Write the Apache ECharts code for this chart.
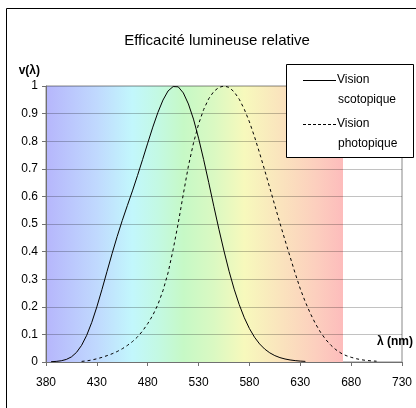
<!DOCTYPE html>
<html>
<head>
<meta charset="utf-8">
<script src="https://cdn.jsdelivr.net/npm/echarts@6/dist/echarts.min.js"></script>
<style>
  html, body { margin: 0; padding: 0; background: #fff; }
  #chart { width: 416px; height: 408px; }
</style>
</head>
<body>
<div id="chart"></div>
<script>
// Wavelength tick labels (nm)
var xTicks = [380, 430, 480, 530, 580, 630, 680, 730];

// Scotopic (night) relative luminous efficiency, 5 nm steps
var scotopicNm = [385, 390, 395, 400, 405, 410, 415, 420, 425, 430, 435, 440, 445, 450, 455, 460,
  465, 470, 475, 480, 485, 490, 495, 500, 505, 510, 515, 520, 525, 530, 535, 540, 545, 550, 555,
  560, 565, 570, 575, 580, 585, 590, 595, 600, 605, 610, 615, 620, 625, 630, 635];
var scotopic = [0.0011, 0.0022, 0.0045, 0.0093, 0.0185, 0.0348, 0.0604, 0.0966, 0.1436, 0.1998,
  0.2625, 0.3281, 0.3931, 0.455, 0.513, 0.567, 0.62, 0.676, 0.734, 0.793, 0.851, 0.904, 0.949,
  0.982, 0.998, 0.997, 0.975, 0.935, 0.88, 0.811, 0.733, 0.65, 0.564, 0.481, 0.402, 0.3288,
  0.2639, 0.2076, 0.1602, 0.1212, 0.0899, 0.0655, 0.0469, 0.0332, 0.0231, 0.0159, 0.0109,
  0.0074, 0.005, 0.0033, 0.0022];

// Photopic (day) relative luminous efficiency, 5 nm steps
var photopicNm = [415, 420, 425, 430, 435, 440, 445, 450, 455, 460, 465, 470, 475, 480, 485, 490,
  495, 500, 505, 510, 515, 520, 525, 530, 535, 540, 545, 550, 555, 560, 565, 570, 575, 580, 585,
  590, 595, 600, 605, 610, 615, 620, 625, 630, 635, 640, 645, 650, 655, 660, 665, 670, 675, 680,
  685, 690, 695, 700, 705];
var photopic = [0.0022, 0.004, 0.0073, 0.0116, 0.0168, 0.023, 0.0298, 0.038, 0.048, 0.06, 0.0739,
  0.091, 0.1126, 0.139, 0.1693, 0.208, 0.2586, 0.323, 0.4073, 0.503, 0.6082, 0.71, 0.7932, 0.862,
  0.9149, 0.954, 0.9803, 0.995, 1.0, 0.995, 0.9786, 0.952, 0.9154, 0.87, 0.8163, 0.757, 0.6949,
  0.631, 0.5668, 0.503, 0.4412, 0.381, 0.321, 0.265, 0.217, 0.175, 0.1382, 0.107, 0.0816, 0.061,
  0.0446, 0.032, 0.0232, 0.017, 0.0119, 0.0082, 0.0057, 0.0041, 0.0029];

// Visible spectrum band behind the curves (nm range and pastel colour stops)
var spectrumRange = [380, 672];
var spectrumStopsNm = [380, 430, 465, 490, 515, 545, 575, 610, 645, 672];
var spectrumColors = ['#b6b6fc', '#c0d9fe', '#c2f7fc', '#c3f9e3', '#c6f9c6', '#daf9c2',
  '#f7f9bc', '#fae4bd', '#fccfbe', '#fdbcbc'];

// Legend entries: each name is written on two lines
var legendLines = [['Vision', 'scotopique'], ['Vision', 'photopique']];

function pairs(xs, ys) {
  return xs.map(function (x, i) { return [x, ys[i]]; });
}

var span = spectrumRange[1] - spectrumRange[0];
var gradient = new echarts.graphic.LinearGradient(0, 0, 1, 0,
  spectrumStopsNm.map(function (nm, i) {
    return { offset: (nm - spectrumRange[0]) / span, color: spectrumColors[i] };
  }));

var sans = '"Liberation Sans", Arial, sans-serif';
var axisColor = '#707070';

function legendText(str, x, y) {
  return { type: 'text', z: 120, x: x, y: y, silent: true,
    style: { text: str, fontFamily: sans, fontSize: 12, fill: '#000',
      textAlign: 'left', textVerticalAlign: 'middle' } };
}

var chart = echarts.init(document.getElementById('chart'), null, { renderer: 'canvas' });
chart.setOption({
  animation: false,
  backgroundColor: '#ffffff',
  title: {
    text: 'Efficacité lumineuse relative',
    left: 212,
    top: 28,
    textAlign: 'center',
    textStyle: { fontFamily: sans, fontSize: 15, fontWeight: 'normal', color: '#000' }
  },
  grid: {
    left: 46, right: 11, top: 86, bottom: 46,
    show: true, borderColor: '#888', borderWidth: 1, backgroundColor: 'transparent'
  },
  xAxis: {
    type: 'value',
    min: 380, max: 730,
    z: 2,
    name: 'λ (nm)',
    nameLocation: 'end',
    nameGap: -25,
    nameTextStyle: { fontFamily: sans, fontSize: 12, fontWeight: 'bold', color: '#000',
      align: 'left', verticalAlign: 'bottom', padding: [0, 0, 14, 0] },
    axisLine: { show: true, onZero: false, lineStyle: { color: axisColor, width: 1 } },
    axisTick: { show: true, length: 4, inside: false, customValues: xTicks, lineStyle: { color: axisColor } },
    axisLabel: { customValues: xTicks, margin: 15, fontFamily: sans, fontSize: 12, color: '#000' },
    splitLine: { show: false }
  },
  yAxis: {
    type: 'value',
    min: 0, max: 1, interval: 0.1,
    z: 2,
    name: 'v(λ)',
    nameLocation: 'end',
    nameGap: 15,
    nameTextStyle: { fontFamily: sans, fontSize: 12, fontWeight: 'bold', color: '#000',
      align: 'right', verticalAlign: 'middle', padding: [0, 6, 0, 0] },
    axisLine: { show: true, lineStyle: { color: axisColor, width: 1 } },
    axisTick: { show: true, length: 4, inside: false, lineStyle: { color: axisColor } },
    axisLabel: { margin: 8, fontFamily: sans, fontSize: 12, color: '#000' },
    splitLine: { show: true, lineStyle: { color: 'rgba(0,0,0,0.24)', width: 1 } }
  },
  series: [
    {
      name: 'spectre',
      type: 'line',
      z: 1,
      data: [],
      silent: true,
      markArea: {
        silent: true,
        label: { show: false },
        itemStyle: { color: gradient, opacity: 1 },
        data: [[{ coord: [spectrumRange[0], 0] }, { coord: [spectrumRange[1], 1] }]]
      }
    },
    {
      name: legendLines[0].join(' '),
      type: 'line',
      z: 3,
      showSymbol: false,
      data: pairs(scotopicNm, scotopic),
      lineStyle: { color: '#000', width: 1, type: 'solid' }
    },
    {
      name: legendLines[1].join(' '),
      type: 'line',
      z: 3,
      showSymbol: false,
      data: pairs(photopicNm, photopic),
      lineStyle: { color: '#000', width: 1, type: [3, 3] }
    }
  ],
  graphic: [
    // outer chart frame
    { type: 'rect', z: 100, silent: true,
      shape: { x: 6.5, y: 8.5, width: 420, height: 420 },
      style: { fill: null, stroke: '#000', lineWidth: 1 } },
    // legend box
    { type: 'rect', z: 110, silent: true, shape: { x: 286.5, y: 64.5, width: 127, height: 93 },
      style: { fill: '#fff', stroke: '#000', lineWidth: 1 } },
    { type: 'line', z: 120, silent: true, shape: { x1: 303, y1: 80.5, x2: 336, y2: 80.5 },
      style: { stroke: '#000', lineWidth: 1 } },
    legendText(legendLines[0][0], 337, 80),
    legendText(legendLines[0][1], 338, 100),
    { type: 'line', z: 120, silent: true, shape: { x1: 303, y1: 124.5, x2: 336, y2: 124.5 },
      style: { stroke: '#000', lineWidth: 1, lineDash: [3, 2] } },
    legendText(legendLines[1][0], 337, 124),
    legendText(legendLines[1][1], 338, 144)
  ]
});
</script>
</body>
</html>
